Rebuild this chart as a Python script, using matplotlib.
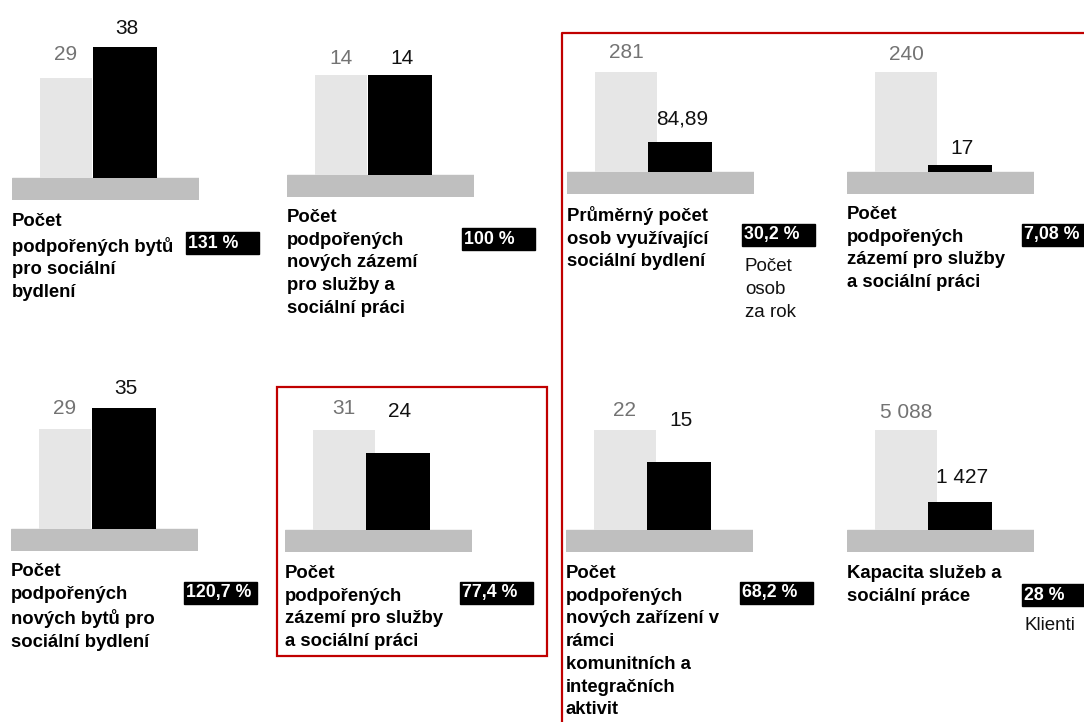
import matplotlib
matplotlib.use("Agg")
import matplotlib.pyplot as plt
from matplotlib.patches import Rectangle

plt.rcParams["font.family"] = ["Liberation Sans", "DejaVu Sans"]

# --- data (plan = light bar, actual = black bar) ---
plan_values = [29, 14, 281, 240, 29, 31, 22, 5088]
actual_values = [38, 14, 84.89, 17, 35, 24, 15, 1427]
plan_labels = ["29", "14", "281", "240", "29", "31", "22", "5 088"]
actual_labels = ["38", "14", "84,89", "17", "35", "24", "15", "1 427"]
percent_labels = ["131 %", "100 %", "30,2 %", "7,08 %",
                  "120,7 %", "77,4 %", "68,2 %", "28 %"]
titles = [
    "Počet\npodpořených bytů\npro sociální\nbydlení",
    "Počet\npodpořených\nnových zázemí\npro služby a\nsociální práci",
    "Průměrný počet\nosob využívající\nsociální bydlení",
    "Počet\npodpořených\nzázemí pro služby\na sociální práci",
    "Počet\npodpořených\nnových bytů pro\nsociální bydlení",
    "Počet\npodpořených\nzázemí pro služby\na sociální práci",
    "Počet\npodpořených\nnových zařízení v\nrámci\nkomunitních a\nintegračních\naktivit",
    "Kapacita služeb a\nsociální práce",
]
notes = ["", "", "Počet\nosob\nza rok", "", "", "", "", "Klienti"]

# --- layout (pixels) ---
W, H = 1084, 722
panel_x = [12, 287, 567, 847, 11, 285, 566, 847]
base_top = [178, 175, 172, 172, 529, 530, 530, 530]
title_top = [213, 209, 206, 206, 563, 565, 565, 565]
pct_box = [(186, 232), (462, 228), (742, 224), (1022, 224),
           (184, 582), (460, 582), (740, 582), (1022, 584)]
note_pos = [None, None, (745, 259), None, None, None, None, (1024, 618)]
light_w = [52, 52, 62, 62, 52, 62, 62, 62]
plan_off = [23, 17, 19, 18, 21, 21, 20, 17]
actual_off = [18, 16, 23, 16, 20, 41, 41, 24]

LIGHT = "#e6e6e6"
BASE = "#bfbfbf"
RED = "#c00000"
PX = 100  # pixel height of the plan bar


def fx(x):
    return x / W


def fy(y):
    return 1 - y / H


fig = plt.figure(figsize=(W / 100, H / 100), dpi=100)

for i in range(8):
    x0 = panel_x[i]
    y0 = base_top[i]
    s = plan_values[i] / PX  # data units per pixel
    ax_h = 200
    ax = fig.add_axes([fx(x0), fy(y0 + 22), 187 / W, ax_h / H])
    ax.set_xlim(0, 187)
    ax.set_ylim(-22 * s, (ax_h - 22) * s)
    ax.axis("off")
    ax.axhspan(-22 * s, 0, color=BASE, zorder=1)

    lx = 28 + light_w[i] / 2
    ax.bar(lx, plan_values[i], width=light_w[i], color=LIGHT, zorder=2)
    ax.bar(81 + 32, actual_values[i], width=64, color="black", zorder=3)

    ax.annotate(plan_labels[i], (lx, plan_values[i]),
                xytext=(0, plan_off[i] * 0.72), textcoords="offset points",
                ha="center", va="center", fontsize=15, color="#737373",
                annotation_clip=False)
    ax.annotate(actual_labels[i], (115, actual_values[i]),
                xytext=(0, actual_off[i] * 0.72), textcoords="offset points",
                ha="center", va="center", fontsize=15, color="#111111",
                annotation_clip=False)

    # description
    fig.text(fx(x0), fy(title_top[i]), titles[i], ha="left", va="top",
             fontsize=13.3, fontweight="bold", linespacing=1.44)

    # percentage box
    bx, by = pct_box[i]
    fig.patches.append(Rectangle((fx(bx), fy(by + 22)), 73 / W, 22 / H,
                                 transform=fig.transFigure, color="black",
                                 zorder=2))
    fig.text(fx(bx + 2), fy(by + 11), percent_labels[i], ha="left",
             va="center", fontsize=12.8, fontweight="bold", color="white",
             zorder=3)

    if notes[i]:
        nx, ny = note_pos[i]
        fig.text(fx(nx), fy(ny - 1), notes[i], ha="left", va="top",
                 fontsize=13.5, linespacing=1.45, color="#111111")

# red frames
fig.patches.append(Rectangle((fx(277), fy(656)), 270 / W, 269 / H,
                             transform=fig.transFigure, fill=False,
                             edgecolor=RED, linewidth=1.6))
fig.lines.append(plt.Line2D([fx(562), fx(562), 1.0], [0.0, fy(33), fy(33)],
                            transform=fig.transFigure, color=RED,
                            linewidth=1.6))

fig.savefig("out.png", dpi=100)
